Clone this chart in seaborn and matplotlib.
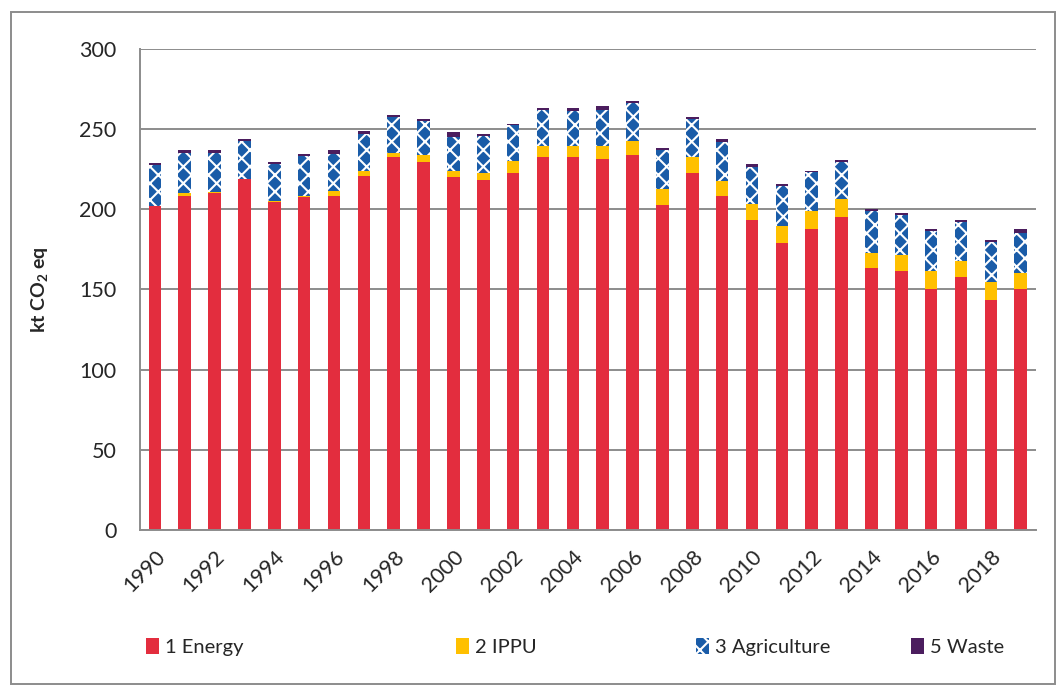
import pandas as pd
import numpy as np
import matplotlib.pyplot as plt
from matplotlib.patches import Patch, Rectangle
import seaborn as sns

# dados (kt CO2 eq)
anos = list(range(1990, 2020))
energia = [201.8, 208.6, 209.9, 218.6, 204.3, 207.4, 208.6, 220.9, 232.4, 229.7,
           219.9, 218.4, 222.6, 232.4, 232.4, 231.1, 233.6, 203.0, 222.6, 208.6,
           193.4, 179.3, 188.0, 194.9, 163.5, 161.8, 150.4, 157.8, 143.6, 150.4]
ippu = [0.4, 1.5, 0.8, 0.5, 0.6, 1.2, 3.1, 3.0, 2.9, 4.2,
        4.1, 4.2, 7.3, 6.9, 6.9, 8.2, 8.8, 9.8, 9.8, 8.8,
        9.8, 10.0, 11.0, 11.5, 9.5, 9.8, 11.2, 9.8, 11.2, 9.6]
agricultura = [25.2, 25.0, 24.6, 23.5, 23.5, 24.8, 23.0, 22.9, 22.4, 21.3,
               21.4, 23.2, 22.5, 22.5, 22.3, 22.9, 23.9, 23.9, 24.0, 24.5,
               23.5, 25.0, 24.0, 23.3, 26.0, 24.8, 25.0, 24.4, 24.7, 25.1]
residuos = [1.2, 1.6, 1.4, 1.3, 1.3, 1.2, 2.5, 2.2, 1.4, 1.2,
            2.9, 1.2, 1.0, 1.5, 1.7, 2.5, 1.1, 1.5, 1.2, 1.9,
            1.7, 1.6, 1.0, 1.2, 1.3, 1.4, 1.2, 1.4, 1.5, 2.5]

setores = ['1 Energy', '2 IPPU', '3 Agriculture', '5 Waste']
cores = ['#e32d3e', '#ffc000', '#1a5ca8', '#4b1d5e']

df = pd.DataFrame({'Ano': [str(a) for a in anos], '1 Energy': energia,
                   '2 IPPU': ippu, '3 Agriculture': agricultura, '5 Waste': residuos})
# somas acumuladas para empilhar as barras
acum = df[setores].cumsum(axis=1)
acum['Ano'] = df['Ano']

sns.set_style('white')
plt.rcParams['font.family'] = ['Lato', 'DejaVu Sans']
plt.rcParams['mathtext.fontset'] = 'custom'
plt.rcParams['mathtext.rm'] = 'Lato'
plt.rcParams['mathtext.bf'] = 'Lato:bold'
plt.rcParams['hatch.linewidth'] = 1.5

fig = plt.figure(figsize=(10.6, 6.86), dpi=100)
ax = fig.add_axes([0.132, 0.2274, 0.845, 0.7012])

hatches = [None, None, 'xx', None]
# desenha do topo para baixo
for i in range(3, -1, -1):
    kw = dict(linewidth=0)
    if hatches[i]:
        kw.update(hatch=hatches[i], edgecolor='white')
    sns.barplot(data=acum, x='Ano', y=setores[i], color=cores[i], width=0.42,
                saturation=1, ax=ax, **kw)

ax.set_ylim(0, 300)
ax.set_xlim(-0.5, len(anos) - 0.5)
ax.set_yticks(range(0, 301, 50))
ax.yaxis.grid(True, color='#8c8c8c', linewidth=1.4)
ax.set_axisbelow(True)
for s in ['top', 'right']:
    ax.spines[s].set_visible(False)
for s in ['left', 'bottom']:
    ax.spines[s].set_color('#8c8c8c')
    ax.spines[s].set_linewidth(1.4)

ax.set_xticks(range(0, len(anos), 2))
ax.set_xticklabels([str(a) for a in anos[::2]], rotation=45, ha='right',
                   rotation_mode='anchor', fontsize=15.5)
ax.set_xticks(np.arange(-0.5, len(anos), 1), minor=True)
ax.tick_params(axis='x', which='major', length=0, pad=12)
ax.tick_params(axis='x', which='minor', length=8, width=1.4, color='#8c8c8c')
ax.tick_params(axis='y', length=7, width=1.4, color='#8c8c8c', labelsize=15.5, pad=10)
ax.set_xlabel('')
ax.set_ylabel(r'kt CO$_\mathbf{2}$ eq', fontsize=14, fontweight='bold', labelpad=20)

# legenda na parte de baixo
posicoes = [0.128, 0.421, 0.647, 0.850]
for nome, cor, h, px in zip(setores, cores, hatches, posicoes):
    alca = Patch(facecolor=cor, edgecolor='white' if h else cor, hatch=h, linewidth=0)
    fig.legend(handles=[alca], labels=[nome], loc='center left',
               bbox_to_anchor=(px, 0.057), frameon=False, fontsize=14.5,
               handlelength=0.65, handleheight=0.9, handletextpad=0.3,
               borderpad=0)

fig.patches.append(Rectangle((0.0105, 0.003), 0.985, 0.98, transform=fig.transFigure,
                             fill=False, edgecolor='#8c8c8c', linewidth=1.4))

plt.savefig('out.png', dpi=100)
